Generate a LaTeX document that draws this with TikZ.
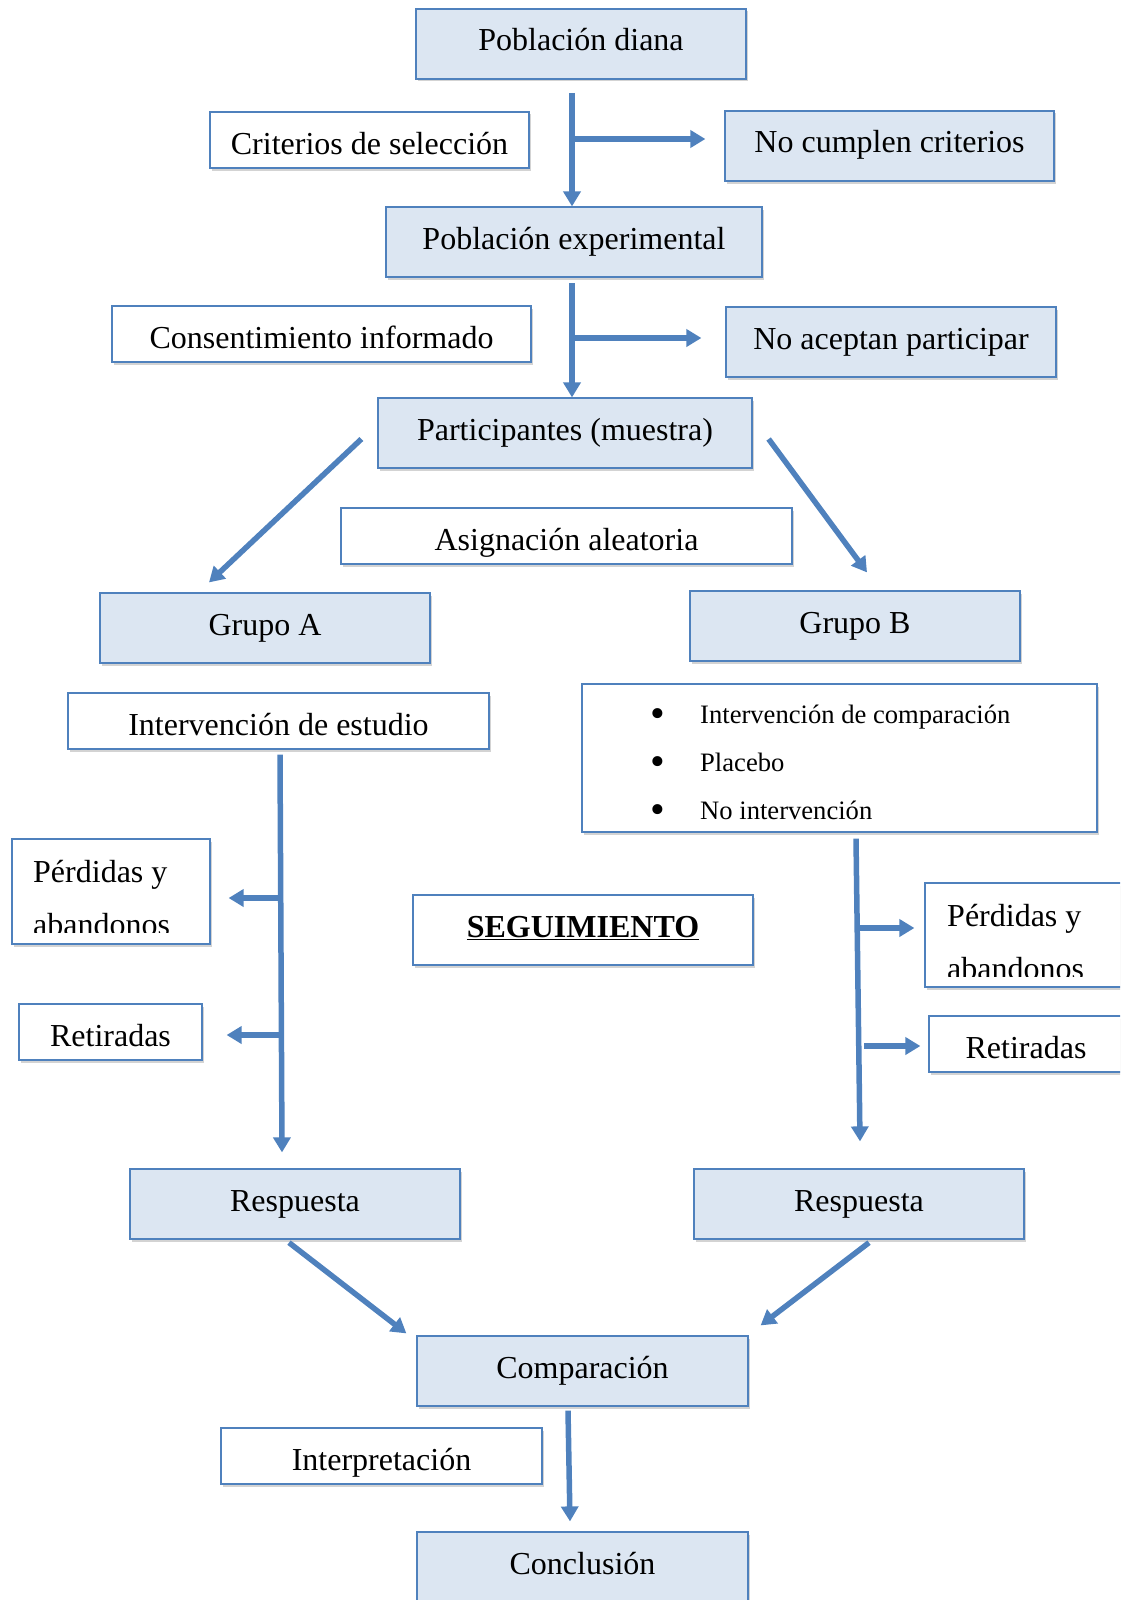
\documentclass[tikz,border=0pt]{standalone}
\usepackage{fontspec}
\setmainfont{Liberation Serif}
\usetikzlibrary{arrows.meta, shadows}
\definecolor{boxblue}{HTML}{4F81BD}
\definecolor{boxfill}{HTML}{DCE6F2}
\newcommand{\bigdot}{\makebox[50pt][l]{\raisebox{-4pt}{\fontsize{42pt}{42pt}\selectfont\textbullet}}}

\begin{document}
\begin{tikzpicture}[x=1pt, y=-1pt,
	box/.style={rectangle, draw=boxblue, line width=1.2pt, inner sep=0pt, font=\fontsize{32pt}{38pt}\selectfont, drop shadow={shadow xshift=1.5pt, shadow yshift=-2.5pt, opacity=0.35}},
	bbox/.style={box, fill=boxfill, text height=42pt, text depth=28pt},
	wbox/.style={box, fill=white, text height=42pt, text depth=14pt},
	ebox/.style={box, fill=white},
	flow/.style={draw=boxblue, line width=5.5pt, -{Triangle[length=15pt, width=17pt]}}]
		\useasboundingbox (0,0) rectangle (1120,1600);
		\clip (0,0) rectangle (1120,1600);
		% selection
		\node at (581,44) [bbox, minimum width=330pt] (diana) {Población diana};
		\node at (369.5,140) [wbox, minimum width=319pt] (crit) {Criterios de selección};
		\node at (889.5,146) [bbox, minimum width=329pt] (nocum) {No cumplen criterios};
		\node at (574,242) [bbox, minimum width=376pt] (exper) {Población experimental};
		\node at (321.5,334) [wbox, minimum width=419pt] (consent) {Consentimiento informado};
		\node at (891,342) [bbox, minimum width=330pt] (noacep) {No aceptan participar};
		\node at (565,433) [bbox, minimum width=374pt] (part) {Participantes (muestra)};
		\node at (566.5,536) [wbox, minimum width=451pt] (asig) {Asignación aleatoria};
		% groups
		\node at (265,628) [bbox, minimum width=330pt] (grupoA) {Grupo A};
		\node at (855,626) [bbox, minimum width=330pt] (grupoB) {Grupo B};
		\node at (278.5,721) [wbox, minimum width=421pt] (intervA) {Intervención de estudio};
		\node at (839.5,758) [ebox, minimum width=515pt, minimum height=148pt] (intervB) {};
		\node at (650,723) [anchor=base west, inner sep=0pt, font=\fontsize{26.6pt}{48pt}\selectfont] (listB) {\begin{tabular}[t]{@{}l@{}l@{}}
			\bigdot & Intervención de comparación\\
			\bigdot & Placebo\\
			\bigdot & No intervención
		\end{tabular}};
		% follow-up
		\node at (111,891.5) [ebox, minimum width=198pt, minimum height=105pt] (perdA) {};
		\begin{scope}
			\clip (perdA.north west) rectangle ([yshift=12pt]perdA.south east);
			\node at (33,882) [anchor=base west, inner sep=0pt, font=\fontsize{32pt}{53pt}\selectfont] (perdAtxt) {\begin{tabular}[t]{@{}l@{}}Pérdidas y\\abandonos\end{tabular}};
		\end{scope}
		\node at (110.5,1032) [wbox, minimum width=183pt] (retA) {Retiradas};
		\node at (583,930) [wbox, minimum width=340pt, text depth=28pt] (seg) {\textbf{\underline{SEGUIMIENTO}}};
		\node at (1027.5,935) [ebox, minimum width=205pt, minimum height=104pt] (perdB) {};
		\begin{scope}
			\clip (perdB.north west) rectangle ([yshift=11pt]perdB.south east);
			\node at (947,926) [anchor=base west, inner sep=0pt, font=\fontsize{32pt}{53pt}\selectfont] (perdBtxt) {\begin{tabular}[t]{@{}l@{}}Pérdidas y\\abandonos\end{tabular}};
		\end{scope}
		\node at (1026,1044) [wbox, minimum width=194pt] (retB) {Retiradas};
		% results
		\node at (295,1204) [bbox, minimum width=330pt] (respA) {Respuesta};
		\node at (859,1204) [bbox, minimum width=330pt] (respB) {Respuesta};
		\node at (582.5,1371) [bbox, minimum width=331pt] (comp) {Comparación};
		\node at (381.5,1456) [wbox, minimum width=321pt] (interp) {Interpretación};
		\node at (582.5,1567) [bbox, minimum width=331pt] (concl) {Conclusión};
		% arrows
		\coordinate (s1) at (572,93);
		\draw[flow] (s1) -- (s1 |- exper.north);
		\coordinate (j1) at (572,139);
		\draw[flow] (j1) -- ([xshift=-19pt]nocum.west |- j1);
		\coordinate (s2) at (572,283);
		\draw[flow] (s2) -- (s2 |- part.north);
		\coordinate (j2) at (572,338);
		\draw[flow] (j2) -- ([xshift=-24pt]noacep.west |- j2);
		\draw[flow] ([xshift=-16pt,yshift=-6pt]part.west) -- ([xshift=-56pt,yshift=10pt]grupoA.north);
		\draw[flow] ([xshift=16pt,yshift=-6pt]part.east) -- ([xshift=12pt,yshift=18pt]grupoB.north);
		\draw[flow] ([xshift=1.5pt,yshift=-5pt]intervA.south) -- ([xshift=-13pt,yshift=16pt]respA.north);
		\coordinate (jA1) at (281,898);
		\draw[flow] (jA1) -- ([xshift=18pt]perdA.east |- jA1);
		\coordinate (jA2) at (281,1035);
		\draw[flow] (jA2) -- ([xshift=24pt]retA.east |- jA2);
		\draw[flow] ([xshift=16.5pt,yshift=-6pt]intervB.south) -- ([xshift=1pt,yshift=27pt]respB.north);
		\coordinate (jB1) at (858,928);
		\draw[flow] (jB1) -- ([xshift=-10pt]perdB.west |- jB1);
		\coordinate (jB2) at (864,1046);
		\draw[flow] (jB2) -- ([xshift=-8pt]retB.west |- jB2);
		\draw[flow] ([xshift=-6pt,yshift=-3pt]respA.south) -- ([xshift=-10pt,yshift=2pt]comp.north west);
		\draw[flow] ([xshift=10pt,yshift=-3pt]respB.south) -- ([xshift=12pt,yshift=10pt]comp.north east);
		\draw[flow] ([xshift=-14.5pt,yshift=-4pt]comp.south) -- ([xshift=-12.5pt,yshift=10pt]concl.north);
\end{tikzpicture}
\end{document}
